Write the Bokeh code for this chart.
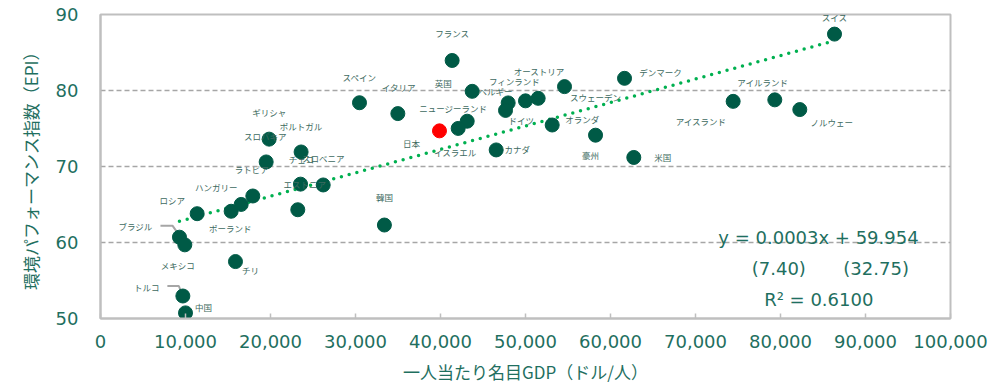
import numpy as np
from bokeh.plotting import figure
from bokeh.models import (ColumnDataSource, Range1d, FixedTicker, NumeralTickFormatter, Label)
from bokeh.core.properties import value
from bokeh.embed import file_html
from bokeh.resources import INLINE

# Countries, nominal GDP per capita (USD) and Environmental Performance Index
countries = ["スイス", "デンマーク", "アイルランド", "アイスランド", "ノルウェー", "米国", "豪州",
             "スウェーデン", "オランダ", "オーストリア", "フィンランド", "ドイツ", "ベルギー",
             "ニュージーランド", "イスラエル", "日本", "英国", "フランス", "カナダ", "スペイン",
             "イタリア", "ギリシャ", "ポルトガル", "スロバキア", "チェコ", "スロベニア", "エストニア",
             "韓国", "ロシア", "ポーランド", "ハンガリー", "ラトビア", "ブラジル", "メキシコ",
             "チリ", "トルコ", "中国"]
gdp = [86353, 61650, 79330, 74430, 82270, 62740, 58240,
       54590, 53140, 51490, 50000, 47960, 47650,
       43140, 42080, 39880, 43730, 41370, 46550, 30470,
       34980, 19840, 23600, 19490, 23530, 26200, 23210,
       33400, 11370, 15370, 16550, 17920, 9290, 9920,
       15880, 9690, 10000]
epi = [87.42, 81.60, 78.77, 78.57, 77.49, 71.19, 74.12,
       80.51, 75.46, 78.97, 78.64, 78.37, 77.38,
       75.96, 75.01, 74.69, 79.89, 83.95, 72.18, 78.39,
       76.96, 73.60, 71.91, 70.60, 67.68, 67.57, 64.31,
       62.30, 63.79, 64.11, 65.01, 66.12, 60.70, 59.69,
       57.49, 52.96, 50.74]

x_ticks = list(range(0, 100001, 10000))
y_ticks = [50, 60, 70, 80, 90]

# label placement (screen pixels relative to each point)
label_dx = [0, 36, -12, -32, 32, 29, -5,
            31, 30, 1, -11, 13, -10,
            -14, -3, -28, -29, 0, 21, 0,
            1, 0, 0, -1, 1, 0, 7,
            0, -25, -1, -25, -1, -44, -7,
            15, -36, 18]
label_dy = [-17, -6, -18, 20, 12, 0, 20,
            10, -6, -27, -20, 17, -19,
            -13, 24, 12, -8, -27, -1, -26,
            -27, -27, -26, -26, -25, -27, -26,
            -28, -14, 17, -17, -27, -11, 20,
            8, -9, -6]

MARK = "#005A46"
TEXT = "#1F6F5F"
LABEL = "#3D6A60"
GRAY = "#BFBFBF"

W, H = 1008, 389
L, R, T, B = 100, 58, 14, 71
X0, X1, Y0, Y1 = 0, 100000, 50, 90
px_x = (W - L - R) / (X1 - X0)
px_y = (H - T - B) / (Y1 - Y0)

p = figure(width=W, height=H, x_range=Range1d(X0, X1), y_range=Range1d(Y0, Y1),
           output_backend="svg", toolbar_location=None,
           min_border_left=L, min_border_right=R, min_border_top=T, min_border_bottom=B)
p.background_fill_color = "white"
p.border_fill_color = "white"
p.outline_line_color = GRAY
p.outline_line_width = 2

p.xgrid.visible = False
p.ygrid.ticker = FixedTicker(ticks=[60, 70, 80])
p.ygrid.grid_line_color = "#A6A6A6"
p.ygrid.grid_line_dash = "5 3"
p.ygrid.grid_line_width = 1.5

p.xaxis.ticker = FixedTicker(ticks=x_ticks)
p.xaxis.formatter = NumeralTickFormatter(format="0,0")
p.yaxis.ticker = FixedTicker(ticks=y_ticks)
for ax in (p.xaxis, p.yaxis):
    ax.axis_line_color = GRAY
    ax.axis_line_width = 2
    ax.major_tick_line_color = GRAY
    ax.major_tick_line_width = 1.5
    ax.minor_tick_line_color = None
    ax.major_label_text_font = "DejaVu Sans"
    ax.major_label_text_font_size = "18px"
    ax.major_label_text_color = TEXT
    ax.axis_label_text_font = "Noto Sans CJK JP"
    ax.axis_label_text_font_size = "17px"
    ax.axis_label_text_font_style = "normal"
    ax.axis_label_text_color = TEXT
p.xaxis.major_tick_in = 5
p.xaxis.major_tick_out = 0
p.yaxis.major_tick_in = 0
p.yaxis.major_tick_out = 0
p.xaxis.major_label_standoff = 16
p.yaxis.major_label_standoff = 22
p.xaxis.axis_label = "一人当たり名目GDP（ドル/人）"
p.yaxis.axis_label = "環境パフォーマンス指数（EPI）"
p.xaxis.axis_label_standoff = 8
p.yaxis.axis_label_standoff = 10

# least-squares trend line across the data range
gx = np.array(gdp, dtype=float)
gy = np.array(epi, dtype=float)
slope, intercept = np.polyfit(gx, gy, 1)
tx = np.array([gx.min(), gx.max()])
p.line(tx, slope * tx + intercept, line_color="#00B050", line_width=3.5,
       line_dash="0 8", line_cap="round")

# leader lines for Brazil and Turkey labels (pixel offsets converted to data units)
def leader(name, pts):
    i = countries.index(name)
    xs = [gdp[i] + dx / px_x for dx, dy in pts]
    ys = [epi[i] - dy / px_y for dx, dy in pts]
    return xs, ys

lx1, ly1 = leader("ブラジル", [(-19, -11.5), (-7, -11.5), (-1, -3)])
lx2, ly2 = leader("トルコ", [(-15.5, -10), (-4, -10), (-1, -2)])
p.multi_line([lx1, lx2], [ly1, ly2], line_color="#A6A6A6", line_width=2)

colors = ["#FF0000" if c == "日本" else MARK for c in countries]
src = ColumnDataSource(dict(x=gdp, y=epi, name=countries, dx=label_dx, dy=label_dy, c=colors))
p.scatter("x", "y", source=src, size=14, fill_color="c", line_color="c")
p.text("x", "y", text="name", x_offset="dx", y_offset="dy", source=src,
       text_font=value("Noto Sans CJK JP"), text_font_size="8.5px", text_color=LABEL,
       text_align="center", text_baseline="middle")

# regression summary
for txt, x, y in [("y = 0.0003x + 59.954", 84470, 60.6),
                  ("(7.40)", 79800, 56.56),
                  ("(32.75)", 91250, 56.56),
                  ("R² = 0.6100", 84500, 52.52)]:
    p.add_layout(Label(x=x, y=y, text=txt, text_font="DejaVu Sans", text_font_size="18px",
                       text_color=TEXT, text_align="center", text_baseline="middle"))

open("out.html", "w").write(file_html(p, INLINE))
